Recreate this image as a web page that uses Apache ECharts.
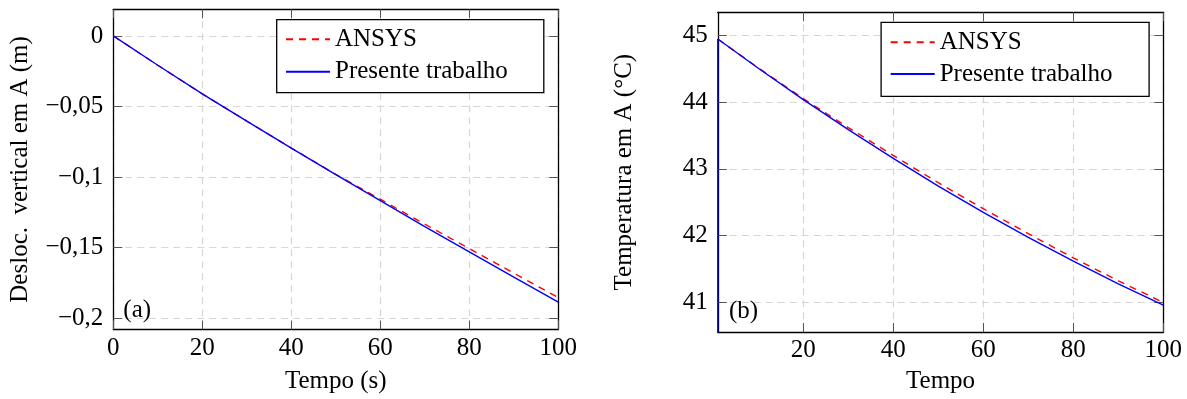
<!DOCTYPE html>
<html>
<head>
<meta charset="utf-8">
<script src="https://cdn.jsdelivr.net/npm/echarts@6/dist/echarts.min.js"></script>
<style>
html,body{margin:0;padding:0;background:#fff;}
#c{width:1187px;height:399px;}
</style>
</head>
<body>
<div id="c"></div>
<script>
// ---- Data ----
const seriesNames = ['ANSYS', 'Presente trabalho'];

// (a) vertical displacement at A (m) vs time (s)
const timeA = [0, 10, 20, 30, 40, 50, 60, 70, 80, 90, 100];
const deslAnsys    = [0, -0.0208, -0.0411, -0.0604, -0.0795, -0.0982, -0.1158, -0.1335, -0.1508, -0.1682, -0.1856];
const deslPresente = [0, -0.0208, -0.0411, -0.0604, -0.0795, -0.0984, -0.1168, -0.1352, -0.1531, -0.1710, -0.1888];
const xTicksA = [0, 20, 40, 60, 80, 100];
const yTicksA = [-0.2, -0.15, -0.1, -0.05, 0];

// (b) temperature at A (°C) vs time
const timeBAnsys    = [1, 10, 20, 30, 40, 50, 60, 70, 80, 90, 100];
const tempAnsys     = [44.945, 44.512, 44.053, 43.618, 43.201, 42.793, 42.404, 42.029, 41.667, 41.324, 41.000];
const timeBPresente = [1, 1, 10, 20, 30, 40, 50, 60, 70, 80, 90, 100];
const tempPresente  = [20, 44.945, 44.507, 44.038, 43.588, 43.156, 42.743, 42.349, 41.974, 41.617, 41.279, 40.960];
const xTicksB = [20, 40, 60, 80, 100];
const yTicksB = [41, 42, 43, 44, 45];

// ---- Helpers ----
const FONT = "'Liberation Serif', 'Times New Roman', serif";
const FS = 25;
const zip = (xs, ys) => xs.map((x, i) => [x, ys[i]]);
const fmtA = v => (Math.abs(v) < 1e-12 ? '0' : (v < 0 ? '\u2212' : '') + String(Math.abs(v)).replace('.', ','));

const gridLine = { show: true, lineStyle: { color: '#d6d6d6', width: 1.2, type: [7, 5] } };
const axLine = { show: true, onZero: false, lineStyle: { color: '#000', width: 1.3 } };
const tick = vals => ({ show: true, inside: true, length: 9, lineStyle: { color: '#555', width: 1 }, customValues: vals });
const lbl = (vals, margin, fmt) => ({
  show: true, customValues: vals, margin: margin, color: '#000',
  fontFamily: FONT, fontSize: FS, formatter: fmt
});
const nameStyle = { color: '#000', fontFamily: FONT, fontSize: FS };

function xPair(gi, min, max, ticks, name, gap) {
  return [
    { type: 'value', gridIndex: gi, position: 'bottom', min: min, max: max,
      axisLine: axLine, axisTick: tick(ticks), axisLabel: lbl(ticks, 6, v => String(v)),
      splitLine: gridLine, name: name, nameLocation: 'middle', nameGap: gap, nameTextStyle: nameStyle },
    { type: 'value', gridIndex: gi, position: 'top', min: min, max: max,
      axisLine: axLine, axisTick: tick(ticks), axisLabel: { show: false }, splitLine: { show: false } }
  ];
}
function yPair(gi, min, max, ticks, fmt, name, gap) {
  return [
    { type: 'value', gridIndex: gi, position: 'left', min: min, max: max,
      axisLine: axLine, axisTick: tick(ticks), axisLabel: lbl(ticks, 10, fmt),
      splitLine: gridLine, name: name, nameLocation: 'middle', nameGap: gap, nameTextStyle: nameStyle },
    { type: 'value', gridIndex: gi, position: 'right', min: min, max: max,
      axisLine: axLine, axisTick: tick(ticks), axisLabel: { show: false }, splitLine: { show: false } }
  ];
}
function lineSeries(name, xi, yi, data, color, dashed) {
  return {
    name: name, type: 'line', xAxisIndex: xi, yAxisIndex: yi, data: data,
    symbol: 'none', showSymbol: false, silent: true, z: dashed ? 2 : 3,
    lineStyle: { color: color, width: 1.4, type: dashed ? [7, 6] : 'solid' },
    itemStyle: { color: color }
  };
}
function legendAt(left, top, gap, textGap) {
  return {
    data: seriesNames, orient: 'vertical', left: left, top: top, padding: 0,
    itemWidth: 44, itemHeight: 14, itemGap: gap, itemTextGap: textGap,
    selectedMode: false, z: 5,
    itemStyle: { opacity: 0 },
    textStyle: { color: '#000', fontFamily: FONT, fontSize: FS }
  };
}

const chart = echarts.init(document.getElementById('c'), null, { renderer: 'canvas' });
chart.setOption({
  animation: false,
  backgroundColor: '#fff',
  grid: [
    { left: 113.3, top: 9.3, width: 445, height: 321.7 },
    { left: 717.8, top: 12.3, width: 445.5, height: 321.7 }
  ],
  xAxis: [
    ...xPair(0, 0, 100, xTicksA, 'Tempo (s)', 39.5),
    ...xPair(1, 1, 100, xTicksB, 'Tempo', 37)
  ],
  yAxis: [
    ...yPair(0, -0.2082, 0.0189, yTicksA, fmtA, 'Desloc.  vertical em A (m)', 80),
    ...yPair(1, 40.557, 45.345, yTicksB, v => String(v), 'Temperatura em A (\u00B0C)', 81)
  ],
  legend: [legendAt(285, 26.8, 7.4, 6.7), legendAt(889.7, 29.8, 6.7, 6.3)],
  graphic: { elements: [
    { type: 'rect', z: 4, shape: { x: 276.7, y: 19.7, width: 267.1, height: 73 },
      style: { fill: '#fff', stroke: '#000', lineWidth: 1.3 } },
    { type: 'rect', z: 4, shape: { x: 881.1, y: 22.3, width: 268, height: 74 },
      style: { fill: '#fff', stroke: '#000', lineWidth: 1.3 } },
    { type: 'text', z: 5, x: 123.3, y: 310,
      style: { text: '(a)', fill: '#000', font: FS + 'px ' + FONT, textVerticalAlign: 'middle', verticalAlign: 'middle' } },
    { type: 'text', z: 5, x: 729, y: 311.7,
      style: { text: '(b)', fill: '#000', font: FS + 'px ' + FONT, textVerticalAlign: 'middle', verticalAlign: 'middle' } }
  ] },
  series: [
    lineSeries(seriesNames[0], 0, 0, zip(timeA, deslAnsys), '#ff0000', true),
    lineSeries(seriesNames[1], 0, 0, zip(timeA, deslPresente), '#0000ff', false),
    lineSeries(seriesNames[0], 2, 2, zip(timeBAnsys, tempAnsys), '#ff0000', true),
    lineSeries(seriesNames[1], 2, 2, zip(timeBPresente, tempPresente), '#0000ff', false)
  ]
});
</script>
</body>
</html>
